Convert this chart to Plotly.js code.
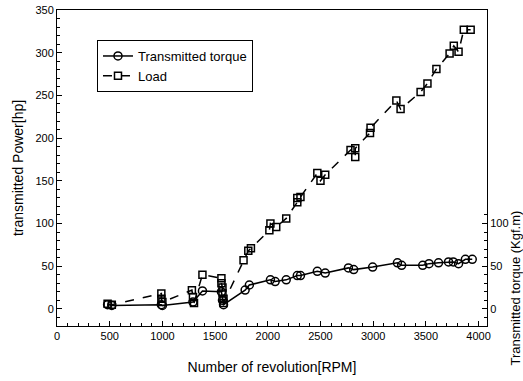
<!DOCTYPE html>
<html>
<head>
<meta charset="utf-8">
<script src="https://cdn.plot.ly/plotly-3.0.1.min.js"></script>
<style>html,body{margin:0;padding:0;background:#fff;}#chart{width:523px;height:381px;}</style>
</head>
<body>
<div id="chart"></div>
<script>
// Load (hp) vs RPM
const loadRpm = [480, 520, 990, 990, 1000, 1280, 1290, 1300, 1380, 1560, 1560, 1570, 1570, 1580, 1580, 1770, 1815, 1840, 2015, 2025, 2080, 2175, 2280, 2280, 2310, 2470, 2500, 2545, 2785, 2830, 2830, 2970, 2975, 3220, 3260, 3450, 3515, 3600, 3725, 3765, 3810, 3860, 3925];
const loadVal = [6, 5, 18, 12, 8, 22, 14, 7, 40, 36, 30, 25, 18, 12, 7, 57, 68, 71, 92, 100, 96, 106, 125, 130, 131, 159, 150, 157, 186, 178, 188, 206, 212, 244, 234, 254, 264, 281, 299, 308, 301, 327, 327];
// Transmitted torque (Kgf.m) vs RPM
const torqueRpm = [480, 520, 990, 1000, 1290, 1380, 1560, 1570, 1580, 1785, 1825, 2025, 2070, 2175, 2280, 2310, 2470, 2545, 2765, 2815, 2995, 3230, 3270, 3470, 3530, 3620, 3715, 3760, 3810, 3875, 3940];
const torqueVal = [5, 4, 5, 4, 8, 21, 20, 10, 5, 22, 28, 34, 32, 34, 39, 39, 44, 42, 48, 46, 49, 54, 51, 51, 53, 54, 55, 55, 53, 58, 58];
const xTicks = [0, 500, 1000, 1500, 2000, 2500, 3000, 3500, 4000];
const yTicks = [0, 50, 100, 150, 200, 250, 300, 350];
const y2Ticks = [0, 50, 100];

const narrow = '"Liberation Sans Narrow", Arial, sans-serif';
const tickFont = {family: 'Arial, "Liberation Sans", sans-serif', size: 11, color: '#000'};

const traces = [
  {
    x: torqueRpm, y: torqueVal, name: 'Transmitted torque', type: 'scatter', mode: 'lines+markers',
    line: {color: '#000', width: 1.5},
    marker: {symbol: 'circle-open', size: 8, color: '#000', line: {width: 1.5, color: '#000'}},
    yaxis: 'y2'
  },
  {
    x: loadRpm, y: loadVal, name: 'Load', type: 'scatter', mode: 'lines+markers',
    line: {color: '#000', width: 1.5, dash: 'dash'},
    marker: {symbol: 'square-open', size: 7, color: '#000', line: {width: 1.5, color: '#000'}}
  }
];

const layout = {
  width: 523, height: 381,
  margin: {l: 57, r: 36, t: 10, b: 55},
  paper_bgcolor: '#fff', plot_bgcolor: 'rgba(0,0,0,0)',
  showlegend: true,
  legend: {
    x: 0.093, y: 0.905, xanchor: 'left', yanchor: 'top',
    bgcolor: '#fff', bordercolor: '#000', borderwidth: 1,
    font: {family: narrow, size: 13, color: '#000'},
    tracegroupgap: 0, itemwidth: 30
  },
  xaxis: {
    range: [0, 4080], tickvals: xTicks, ticktext: xTicks.map(String),
    ticks: 'inside', ticklen: 5, tickcolor: '#000', tickwidth: 1,
    minor: {dtick: 100, ticks: 'inside', ticklen: 3, tickcolor: '#000'},
    showline: true, linecolor: '#000', linewidth: 1, mirror: true,
    showgrid: false, zeroline: false, tickfont: tickFont,
    title: {text: 'Number of revolution[RPM]', font: {family: narrow, size: 14, color: '#000'}, standoff: 20}
  },
  yaxis: {
    range: [-20, 350], tickvals: yTicks, ticktext: yTicks.map(String),
    ticks: 'inside', ticklen: 5, tickcolor: '#000', tickwidth: 1,
    minor: {dtick: 10, ticks: 'inside', ticklen: 3, tickcolor: '#000'},
    showline: true, linecolor: '#000', linewidth: 1, mirror: true,
    showgrid: false, zeroline: false, tickfont: tickFont,
    title: {text: 'transmitted Power[hp]', font: {family: narrow, size: 14, color: '#000'}, standoff: 8}
  },
  yaxis2: {
    domain: [0, 0.365], anchor: 'x', side: 'right',
    range: [-20, 115], tickvals: y2Ticks, ticktext: y2Ticks.map(String),
    ticks: 'inside', ticklen: 5, tickcolor: '#000', tickwidth: 1,
    minor: {dtick: 10, ticks: 'inside', ticklen: 3, tickcolor: '#000'},
    showline: true, linecolor: '#000', linewidth: 1,
    showgrid: false, zeroline: false, tickfont: tickFont
  },
  annotations: [{
    text: 'Transmitted torque (Kgf.m)', xref: 'paper', yref: 'paper',
    x: 1.066, y: 0.12, xanchor: 'center', yanchor: 'middle', textangle: -90,
    showarrow: false, font: {family: narrow, size: 13, color: '#000'}
  }]
};

Plotly.newPlot('chart', traces, layout, {displayModeBar: false, staticPlot: true});
</script>
</body>
</html>
